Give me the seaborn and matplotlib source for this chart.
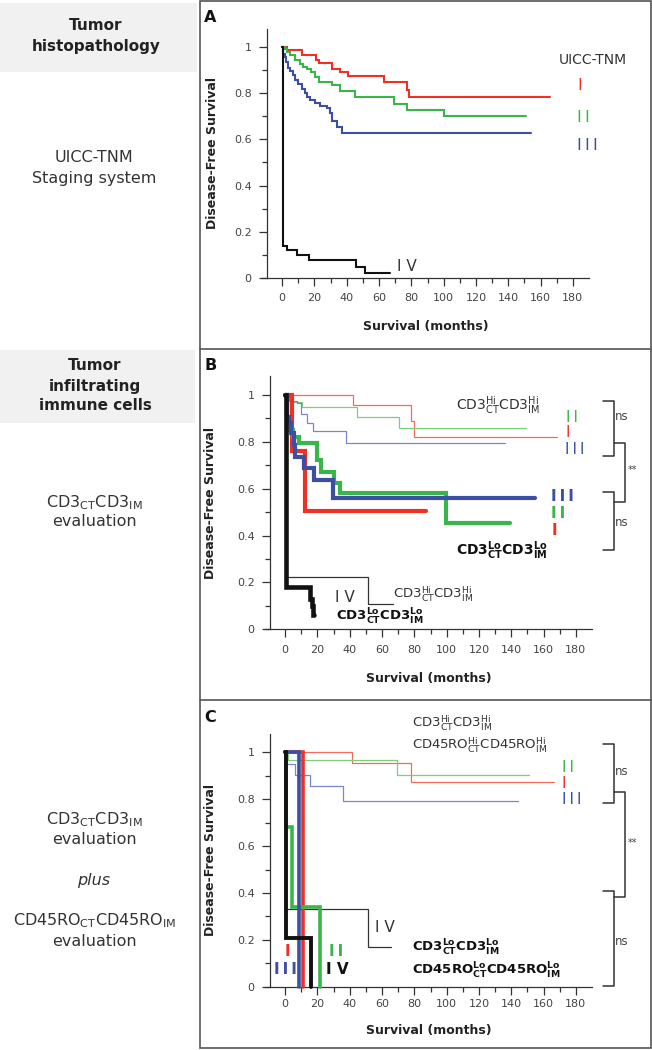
import matplotlib
matplotlib.use("Agg")
import matplotlib.pyplot as plt
import seaborn as sns
import pandas as pd
from matplotlib.patches import Rectangle
from matplotlib.lines import Line2D

sns.set_style("ticks")
plt.rcParams["font.family"] = ["DejaVu Sans"]
plt.rcParams["mathtext.fontset"] = "dejavusans"

W, H = 652, 1050

# axis ticks
xticks = [0, 20, 40, 60, 80, 100, 120, 140, 160, 180]
xminor = [10, 30, 50, 70, 90, 110, 130, 150, 170]
yticks = [0, 0.2, 0.4, 0.6, 0.8, 1]
yminor = [0.1, 0.3, 0.5, 0.7, 0.9]
yticklabels = ["0", "0.2", "0.4", "0.6", "0.8", "1"]

# panel A : UICC-TNM stages
a_I_t = [0, 3, 12.5, 21, 23, 31, 36, 41, 63, 77, 78.5, 166]
a_I_s = [1.0, 0.985, 0.965, 0.945, 0.93, 0.905, 0.89, 0.875, 0.85, 0.815, 0.785, 0.785]
a_II_t = [0, 1.5, 3, 5, 8, 11, 13, 15.5, 18, 20.5, 22.5, 31, 36, 45, 69, 77, 100, 151]
a_II_s = [1.0, 0.99, 0.98, 0.965, 0.945, 0.925, 0.915, 0.905, 0.89, 0.872, 0.848, 0.834,
          0.81, 0.785, 0.755, 0.726, 0.70, 0.70]
a_III_t = [0, 0.5, 1.5, 2.5, 3.5, 5, 6.5, 8, 10, 12, 14, 15.5, 17.5, 20.5, 23.5, 27.5,
           29.5, 31, 34, 37, 154]
a_III_s = [1.0, 0.97, 0.955, 0.935, 0.91, 0.895, 0.878, 0.858, 0.84, 0.818, 0.8, 0.785,
           0.771, 0.756, 0.745, 0.735, 0.713, 0.68, 0.655, 0.629, 0.629]
a_IV_t = [0, 0.7, 3, 9, 16.5, 46, 51.5, 66.5]
a_IV_s = [1.0, 0.137, 0.12, 0.098, 0.076, 0.048, 0.023, 0.023]

# panel B : CD3 Hi/Hi (thin) vs Lo/Lo (thick)
b_hi_I_t = [0, 42, 78, 79.5, 168.5]
b_hi_I_s = [1.0, 0.957, 0.89, 0.82, 0.82]
b_hi_II_t = [0, 4, 10.5, 44.5, 70.5, 149]
b_hi_II_s = [1.0, 0.97, 0.95, 0.908, 0.858, 0.858]
b_hi_III_t = [0, 2.5, 7.5, 9.5, 13.5, 17, 37.5, 136]
b_hi_III_s = [1.0, 0.975, 0.965, 0.92, 0.88, 0.845, 0.795, 0.795]
b_hi_IV_t = [0, 0.5, 51.3, 66.5]
b_hi_IV_s = [1.0, 0.222, 0.108, 0.108]
b_lo_I_t = [0, 4.5, 12, 87]
b_lo_I_s = [1.0, 0.76, 0.505, 0.505]
b_lo_II_t = [0, 1, 5, 8.3, 19.7, 22.4, 30.5, 33.8, 99.8, 139]
b_lo_II_s = [1.0, 0.85, 0.822, 0.794, 0.723, 0.673, 0.623, 0.58, 0.455, 0.455]
b_lo_III_t = [0, 1, 2.5, 3.9, 5.2, 6.2, 11.4, 17.6, 29.7, 154.5]
b_lo_III_s = [1.0, 0.907, 0.879, 0.836, 0.787, 0.737, 0.687, 0.637, 0.559, 0.559]
b_lo_IV_t = [0, 0.3, 15.5, 16.5, 17.2, 17.8]
b_lo_IV_s = [1.0, 0.182, 0.13, 0.1, 0.06, 0.06]

# panel C : CD3 + CD45RO Hi (thin) vs Lo (thick)
c_hi_I_t = [0, 41.3, 78, 166.6]
c_hi_I_s = [1.0, 0.953, 0.875, 0.875]
c_hi_II_t = [0, 1.5, 69.5, 150.7]
c_hi_II_s = [1.0, 0.967, 0.905, 0.905]
c_hi_III_t = [0, 0.3, 6.2, 15.5, 36.1, 144]
c_hi_III_s = [1.0, 0.952, 0.905, 0.856, 0.792, 0.792]
c_hi_IV_t = [0, 0.3, 51, 65.6]
c_hi_IV_s = [1.0, 0.331, 0.17, 0.17]
c_lo_I_t = [0, 11.3]
c_lo_I_s = [1.0, 0.0]
c_lo_II_t = [0, 0.5, 4.1, 21.8]
c_lo_II_s = [1.0, 0.683, 0.34, 0.0]
c_lo_III_t = [0, 8.7]
c_lo_III_s = [1.0, 0.0]
c_lo_IV_t = [0, 0.3, 16]
c_lo_IV_s = [1.0, 0.21, 0.0]

RED, GREEN, BLUE, BLACK = "#ee3124", "#3ab54a", "#3c4fa3", "#111111"
RED_L, GREEN_L, BLUE_L, BLACK_L = "#f26b5b", "#7dcd7a", "#7a86c6", "#333333"
TXT = "#333333"


def fx(x):
    return x / W


def fy(y):
    return 1 - y / H


def km(ax, t, s, color, lw, z):
    df = pd.DataFrame({"months": t, "survival": s})
    sns.lineplot(data=df, x="months", y="survival", ax=ax, color=color, linewidth=lw,
                 drawstyle="steps-post", estimator=None, sort=False, clip_on=False,
                 zorder=z, solid_joinstyle="miter")


def make_axes(left, right, bottom, top, xlab, ylab, pad):
    ax = fig.add_axes([fx(left), fy(bottom), (right - left) / W, (bottom - top) / H])
    ax.set_xlim(-12.5, 190)
    ax.set_ylim(0, 1.08)
    ax.spines["left"].set_position(("data", -9.5))
    ax.spines[["top", "right"]].set_visible(False)
    for sp in ["left", "bottom"]:
        ax.spines[sp].set_linewidth(0.9)
        ax.spines[sp].set_color("#333333")
    ax.set_xticks(xticks)
    ax.set_xticks(xminor, minor=True)
    ax.set_yticks(yticks)
    ax.set_yticks(yminor, minor=True)
    ax.set_yticklabels(yticklabels)
    ax.tick_params(which="major", length=6, width=0.9, color="#333333",
                   labelsize=8, labelcolor="#444444")
    ax.tick_params(which="minor", length=3.5, width=0.9, color="#333333")
    ax.tick_params(axis="x", which="major", pad=pad)
    ax.tick_params(axis="y", which="major", pad=5)
    ax.xaxis.set_label_coords(*xlab)
    ax.yaxis.set_label_coords(*ylab)
    return ax


def set_labels(ax):
    ax.set_xlabel("Survival (months)", fontsize=9, fontweight="bold", color="#222222")
    ax.set_ylabel("Disease-Free Survival", fontsize=9, fontweight="bold", color="#222222")


def line_px(xs, ys, color="#333333", lw=1.1):
    fig.add_artist(Line2D([fx(x) for x in xs], [fy(y) for y in ys], color=color, lw=lw))


def txt(x, y, s, **kw):
    kw.setdefault("ha", "center")
    kw.setdefault("va", "center")
    kw.setdefault("color", TXT)
    fig.text(fx(x), fy(y), s, **kw)


fig = plt.figure(figsize=(6.52, 10.5), dpi=100)

# frame of the right column
fig.add_artist(Rectangle((fx(200), fy(1048)), (651 - 200) / W, 1047.5 / H,
                         fill=False, edgecolor="#555555", lw=1.2))
line_px([200, 651], [348.5, 348.5], "#555555", 1.2)
line_px([200, 651], [699.5, 699.5], "#555555", 1.2)

# left column
fig.add_artist(Rectangle((0, fy(72)), fx(197), 69 / H, facecolor="#f1f1f1", edgecolor="none"))
fig.add_artist(Rectangle((0, fy(423)), fx(195), 73 / H, facecolor="#f1f1f1", edgecolor="none"))
head = dict(fontsize=11, fontweight="bold", color="#222222")
norm = dict(fontsize=11.5, color=TXT)
txt(96, 25, "Tumor", **head)
txt(96, 46, "histopathology", **head)
txt(94, 158, "UICC-TNM", **norm)
txt(94, 179, "Staging system", **norm)
txt(95, 365, "Tumor", **head)
txt(95, 386, "infiltrating", **head)
txt(95, 406, "immune cells", **head)
cd3 = r"CD3$_{\mathrm{CT}}$CD3$_{\mathrm{IM}}$"
txt(94, 503, cd3, **norm)
txt(94, 522, "evaluation", **norm)
txt(94, 820, cd3, **norm)
txt(94, 840, "evaluation", **norm)
txt(94, 880, "plus", fontsize=11.5, style="italic", color=TXT)
txt(94, 921, r"CD45RO$_{\mathrm{CT}}$CD45RO$_{\mathrm{IM}}$", **norm)
txt(94, 942, "evaluation", **norm)

# panel letters
for lab, y in [("A", 18), ("B", 365), ("C", 718)]:
    txt(204, y, lab, ha="left", fontsize=11.5, fontweight="bold", color="#111111")

# ---- panel A ----
axA = make_axes(262, 589, 278, 28.5, (0.56, -0.168), (-0.13, 0.49), 5)
km(axA, a_I_t, a_I_s, RED, 1.5, 3)
km(axA, a_II_t, a_II_s, GREEN, 1.5, 3)
km(axA, a_III_t, a_III_s, BLUE, 1.5, 3)
km(axA, a_IV_t, a_IV_s, BLACK, 1.5, 4)
set_labels(axA)
txt(593, 60, "UICC-TNM", fontsize=10)
txt(580, 85, "I", fontsize=11.5, color=RED)
txt(583, 117, "I\u2009I", fontsize=11.5, color=GREEN)
txt(587, 146, "I\u2009I\u2009I", fontsize=11.5, color=BLUE)
txt(407, 266, "I V", fontsize=11)

# ---- panel B ----
axB = make_axes(265, 592, 629.3, 376.2, (0.576, -0.17), (-0.148, 0.47), 5)
km(axB, b_hi_I_t, b_hi_I_s, RED_L, 0.9, 2)
km(axB, b_hi_II_t, b_hi_II_s, GREEN_L, 0.9, 2)
km(axB, b_hi_III_t, b_hi_III_s, BLUE_L, 0.9, 2)
km(axB, b_hi_IV_t, b_hi_IV_s, BLACK_L, 0.9, 2)
km(axB, b_lo_I_t, b_lo_I_s, RED, 3, 3)
km(axB, b_lo_II_t, b_lo_II_s, GREEN, 3, 3)
km(axB, b_lo_III_t, b_lo_III_s, BLUE, 3, 3)
km(axB, b_lo_IV_t, b_lo_IV_s, BLACK, 3.3, 4)
set_labels(axB)

hi3 = r"CD3$_{\mathrm{CT}}^{\mathrm{Hi}}$CD3$_{\mathrm{IM}}^{\mathrm{Hi}}$"
lo3 = r"$\mathbf{CD3}_{\mathbf{CT}}^{\mathbf{Lo}}\mathbf{CD3}_{\mathbf{IM}}^{\mathbf{Lo}}$"
hiro = r"CD45RO$_{\mathrm{CT}}^{\mathrm{Hi}}$CD45RO$_{\mathrm{IM}}^{\mathrm{Hi}}$"
loro = r"$\mathbf{CD45RO}_{\mathbf{CT}}^{\mathbf{Lo}}\mathbf{CD45RO}_{\mathbf{IM}}^{\mathbf{Lo}}$"

txt(456, 405, hi3, ha="left", fontsize=10)
txt(571.7, 417.3, "I\u2009I", fontsize=11, color=GREEN)
txt(567.7, 432.7, "I", fontsize=11, color=RED)
txt(575, 450, "I\u2009I\u2009I", fontsize=11, color=BLUE)
txt(562.7, 496.7, "I\u2009I\u2009I", fontsize=11, fontweight="bold", color=BLUE)
txt(558.3, 514, "I\u2009I", fontsize=11, fontweight="bold", color=GREEN)
txt(554, 530.7, "I", fontsize=11, fontweight="bold", color=RED)
txt(456, 551, lo3, ha="left", fontsize=10, color="#111111")
txt(345, 598, "I V", fontsize=11)
txt(393, 594, hi3, ha="left", fontsize=9.5)
txt(336, 617, lo3, ha="left", fontsize=9.5, color="#111111")

# significance brackets B
line_px([603.3, 614, 614, 603.3], [401, 401, 455.7, 455.7])
line_px([603.3, 614, 614, 603.3], [491.7, 491.7, 550, 550])
line_px([614, 625, 625, 614], [442.7, 442.7, 502.3, 502.3])
txt(622, 417, "ns", fontsize=8.5, color="#444444")
txt(622, 523, "ns", fontsize=8.5, color="#444444")
txt(632, 470, "**", fontsize=7, color="#444444")

# ---- panel C ----
axC = make_axes(265, 592, 986.7, 733.7, (0.58, -0.147), (-0.148, 0.47), 2.5)
km(axC, c_hi_I_t, c_hi_I_s, RED_L, 0.9, 2)
km(axC, c_hi_II_t, c_hi_II_s, GREEN_L, 0.9, 2)
km(axC, c_hi_III_t, c_hi_III_s, BLUE_L, 0.9, 2)
km(axC, c_hi_IV_t, c_hi_IV_s, BLACK_L, 0.9, 2)
km(axC, c_lo_I_t, c_lo_I_s, RED, 2.6, 3)
km(axC, c_lo_II_t, c_lo_II_s, GREEN, 2.6, 3)
km(axC, c_lo_III_t, c_lo_III_s, BLUE, 2.6, 3)
km(axC, c_lo_IV_t, c_lo_IV_s, BLACK, 2.8, 4)
set_labels(axC)

txt(411.7, 723, hi3, ha="left", fontsize=9.5)
txt(411.7, 745, hiro, ha="left", fontsize=9.5)
txt(568.3, 767.3, "I\u2009I", fontsize=11, color=GREEN)
txt(564, 783.3, "I", fontsize=11, color=RED)
txt(571.7, 799, "I\u2009I\u2009I", fontsize=11, color=BLUE)
txt(385, 927, "I V", fontsize=11)
txt(287.7, 951.7, "I", fontsize=11, fontweight="bold", color=RED)
txt(285, 970, "I\u2009I\u2009I", fontsize=11, fontweight="bold", color=BLUE)
txt(335.7, 951.7, "I\u2009I", fontsize=11, fontweight="bold", color=GREEN)
txt(337.7, 970, "I V", fontsize=11, fontweight="bold", color="#111111")
txt(411.7, 948, lo3, ha="left", fontsize=9.5, color="#111111")
txt(411.7, 971, loro, ha="left", fontsize=9.5, color="#111111")

# significance brackets C
line_px([603.3, 614, 614, 603.3], [744.3, 744.3, 803.3, 803.3])
line_px([603.3, 614, 614, 603.3], [891, 891, 985.7, 985.7])
line_px([614, 625, 625, 614], [791.7, 791.7, 896.7, 896.7])
txt(622, 771.7, "ns", fontsize=8.5, color="#444444")
txt(622, 941.7, "ns", fontsize=8.5, color="#444444")
txt(632, 843, "**", fontsize=7, color="#444444")

fig.savefig("out.png", dpi=100)
